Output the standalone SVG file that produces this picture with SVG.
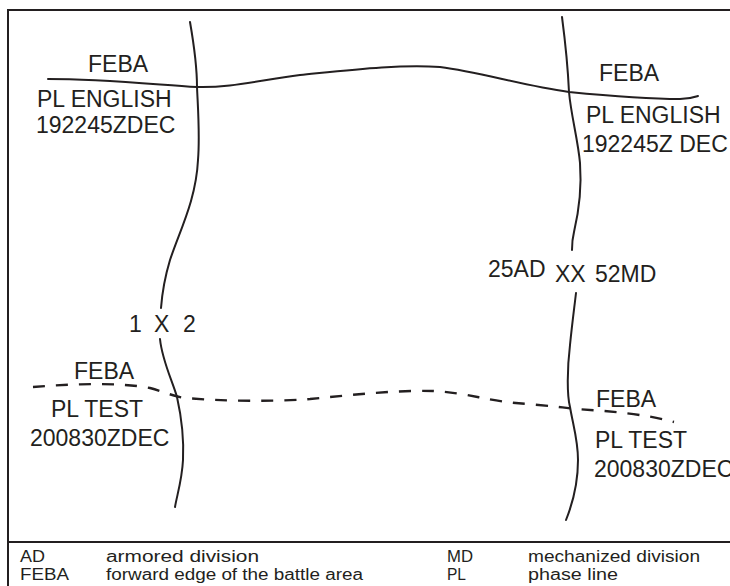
<svg xmlns="http://www.w3.org/2000/svg" width="730" height="586" viewBox="0 0 730 586">
<style>
.t{font-family:"Liberation Sans",Arial,sans-serif;font-size:23px;fill:#231f20}
.lg{font-family:"Liberation Sans",Arial,sans-serif;font-size:16px;fill:#231f20}
.ln{fill:none;stroke:#231f20;stroke-width:2;stroke-linecap:round}
.ds{fill:none;stroke:#231f20;stroke-width:2.4;stroke-dasharray:12 11}
</style>
<rect width="730" height="586" fill="#fff"/>
<g id="frame" fill="none" stroke="#231f20" stroke-width="2">
<path d="M8,586 V10 H730"/>
<path d="M8,542 H730"/>
</g>
<g id="connectors">
<path class="ln" d="M48,79 C100,79 150,84 197,87 C230,88 260,80 300,75 C350,70 400,64 440,67 C480,72 520,85 569,92 C610,96 650,99 680,99 C690,99 695,97 698,96"/>
<path class="ds" d="M33,387 C70,384 120,382 150,388 C165,392 172,396 185,398 C220,401 270,402 310,399 C360,394 400,390 433,391 C470,393 490,402 528,404 C550,406 560,407 575,409 C610,411 645,414 674,422"/>
<path class="ln" d="M190,22 C194,45 197,65 197,87 C198,110 200,135 198,160 C196,200 180,230 170,260 C164,280 162,295 161,308"/>
<path class="ln" d="M160,339 C162,360 172,380 177,397 C181,415 184,440 183,460 C182,480 177,495 175,507"/>
<path class="ln" d="M562,17 C565,40 568,70 569,92 C571,115 578,140 580,163 C582,190 578,215 574,232 C572,240 572,245 572,250"/>
<path class="ln" d="M576,293 C574,310 572,325 570,345 C567,370 567,395 570,407 C573,425 578,440 578,460 C578,485 572,505 566,520"/>
</g>
<g id="pl-english-left">
<text class="t" x="88" y="72">FEBA</text>
<text class="t" x="37" y="107">PL ENGLISH</text>
<text class="t" x="36" y="133">192245ZDEC</text>
</g>
<g id="pl-english-right">
<text class="t" x="599" y="81">FEBA</text>
<text class="t" x="586" y="123">PL ENGLISH</text>
<text class="t" x="582" y="152">192245Z DEC</text>
</g>
<g id="pl-test-left">
<text class="t" x="74" y="379">FEBA</text>
<text class="t" x="51" y="417">PL TEST</text>
<text class="t" x="30" y="446">200830ZDEC</text>
</g>
<g id="pl-test-right">
<text class="t" x="596" y="407">FEBA</text>
<text class="t" x="595" y="448">PL TEST</text>
<text class="t" x="594" y="477">200830ZDEC</text>
</g>
<g id="boundary-brigade">
<text class="t" y="332"><tspan x="129">1</tspan><tspan x="154">X</tspan><tspan x="183">2</tspan></text>
</g>
<g id="boundary-division">
<text class="t" x="488" y="277">25AD</text>
<text class="t" x="555" y="282">XX</text>
<text class="t" x="595" y="282">52MD</text>
</g>
<g id="legend">
<text class="lg" x="20" y="562" textLength="25" lengthAdjust="spacingAndGlyphs">AD</text>
<text class="lg" x="106" y="562" textLength="153" lengthAdjust="spacingAndGlyphs">armored division</text>
<text class="lg" x="20" y="580" textLength="49" lengthAdjust="spacingAndGlyphs">FEBA</text>
<text class="lg" x="106" y="580" textLength="257" lengthAdjust="spacingAndGlyphs">forward edge of the battle area</text>
<text class="lg" x="447" y="562" textLength="26" lengthAdjust="spacingAndGlyphs">MD</text>
<text class="lg" x="528" y="562" textLength="172" lengthAdjust="spacingAndGlyphs">mechanized division</text>
<text class="lg" x="447" y="580" textLength="19" lengthAdjust="spacingAndGlyphs">PL</text>
<text class="lg" x="528" y="580" textLength="90" lengthAdjust="spacingAndGlyphs">phase line</text>
</g>
</svg>
